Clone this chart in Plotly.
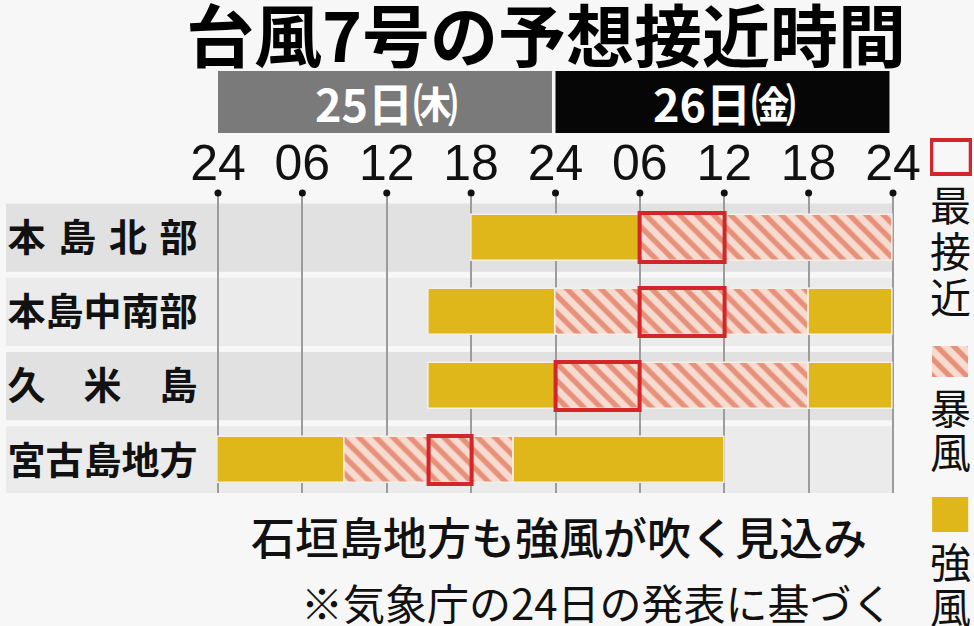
import plotly.graph_objects as go

# ---------------- data ----------------
rows = ["本\u2004島\u2004北\u2004部", "本島中南部", "久\u3000米\u3000島", "宮古島地方"]
hour_ticks = [0, 6, 12, 18, 24, 30, 36, 42, 48]
hour_labels = ["24", "06", "12", "18", "24", "06", "12", "18", "24"]
days = ["25日㈭", "26日㈮"]
day_colors = ["#7a7a7a", "#060606"]

# 強風 (strong wind) segments: row index, start hour, end hour (hours since 25日 0時)
strong_row = [0, 1, 1, 2, 2, 3, 3]
strong_start = [18, 15, 42, 15, 42, 0, 21]
strong_end = [30, 24, 48, 24, 48, 9, 36]

# 暴風 (storm) segments
storm_row = [0, 1, 2, 3]
storm_start = [30, 24, 24, 9]
storm_end = [48, 42, 42, 21]

# 最接近 (closest approach)
closest_row = [0, 1, 2, 3]
closest_start = [30, 30, 24, 15]
closest_end = [36, 36, 30, 18]

legend_names = ["最接近", "暴風", "強風"]
title = "台風7号の予想接近時間"
note1 = "石垣島地方も強風が吹く見込み"
note2 = "※気象庁の24日の発表に基づく"

# ---------------- style ----------------
W, H = 974, 626
PX0, PX1, PY0, PY1 = 218, 893, 193, 493
XR = [-0.1, 48.1]
pph = (PX1 - PX0) / 48.0
DX0 = PX0 + (XR[0] - 0) * pph
DX1 = PX1 + (XR[1] - 48) * pph
YELLOW = "#E0B71A"
RED = "#D3262A"
HATCH_FG = "#E8917A"
HATCH_BG = "#F6DBD1"
BG = "#F7F7F7"
JP = "Noto Sans CJK JP"
NUM = "Liberation Sans Narrow, Liberation Sans, sans-serif"

fig = go.Figure()

bar_w = 0.62
fig.add_trace(go.Bar(
    orientation="h", y=strong_row, base=strong_start,
    x=[e - s for s, e in zip(strong_start, strong_end)],
    width=bar_w, marker=dict(color=YELLOW, line=dict(color="#F4F0E8", width=1.5)),
    showlegend=False, hoverinfo="skip"))
fig.add_trace(go.Bar(
    orientation="h", y=storm_row, base=storm_start,
    x=[e - s for s, e in zip(storm_start, storm_end)],
    width=bar_w,
    marker=dict(color=HATCH_BG, line=dict(color="#F4F0E8", width=1.5),
                pattern=dict(shape="\\", fgcolor=HATCH_FG, bgcolor=HATCH_BG,
                             size=12, solidity=0.45, fillmode="replace")),
    showlegend=False, hoverinfo="skip"))
fig.add_trace(go.Bar(
    orientation="h", y=closest_row, base=closest_start,
    x=[e - s for s, e in zip(closest_start, closest_end)],
    width=bar_w + 0.03,
    marker=dict(color="rgba(0,0,0,0)", line=dict(color=RED, width=4)),
    showlegend=False, hoverinfo="skip"))

# dots at top of gridlines
fig.add_trace(go.Scatter(
    x=hour_ticks, y=[-0.6] * len(hour_ticks), mode="markers",
    marker=dict(size=7, color="#111"), cliponaxis=False,
    showlegend=False, hoverinfo="skip"))

# legend swatch (hatched) on a helper axis
fig.add_trace(go.Bar(
    orientation="h", y=[361], base=[0.05], x=[0.86], width=31,
    xaxis="x2", yaxis="y2",
    marker=dict(color=HATCH_BG, line=dict(width=0),
                pattern=dict(shape="\\", fgcolor=HATCH_FG, bgcolor=HATCH_BG,
                             size=12, solidity=0.45, fillmode="replace")),
    showlegend=False, hoverinfo="skip"))

shapes = []
# row bands
for i in range(len(rows)):
    shapes.append(dict(type="rect", xref="paper", yref="y", layer="below",
                       x0=6 / W, x1=894 / W, y0=i - 0.46, y1=i + 0.46,
                       fillcolor="#E1E1E1" if i % 2 == 0 else "#EBEBEB",
                       line=dict(width=0)))
# day header bars
for i, d in enumerate(days):
    shapes.append(dict(type="rect", xref="x", yref="paper",
                       x0=24 * i, x1=24 * (i + 1) - 0.25,
                       y0=1 - 133 / H, y1=1 - 71 / H,
                       fillcolor=day_colors[i], line=dict(width=0)))
# legend swatches
shapes.append(dict(type="rect", xref="x2", yref="y2", x0=0.03, x1=0.97, y0=140, y1=174,
                   fillcolor="rgba(0,0,0,0)", line=dict(color=RED, width=4)))
shapes.append(dict(type="rect", xref="x2", yref="y2", x0=0.05, x1=0.91, y0=497, y1=532,
                   fillcolor=YELLOW, line=dict(width=0)))

ann = []
ann.append(dict(text=f"<b>{title}</b>", x=546 / W, y=1 - 32 / H, xref="paper", yref="paper",
                showarrow=False, font=dict(family=JP, size=68, color="#000", weight=900),
                xanchor="center", yanchor="middle"))
for i, d in enumerate(days):
    ann.append(dict(text=f"<b>{d}</b>", x=24 * i + 12, y=1 - 103 / H, xref="x", yref="paper",
                    showarrow=False, font=dict(family=JP, size=45, color="#fff"),
                    xanchor="center", yanchor="middle"))
# vertical legend text
legend_centers = [[203, 249, 295], [406, 450], [560, 605]]
for name, ys in zip(legend_names, legend_centers):
    for ch, yc in zip(name, ys):
        ann.append(dict(text=ch, x=950 / W, y=1 - yc / H, xref="paper", yref="paper",
                        showarrow=False, font=dict(family=JP, size=41, color="#111"),
                        xanchor="center", yanchor="middle"))
ann.append(dict(text=note1, x=559 / W, y=1 - 536 / H, xref="paper", yref="paper",
                showarrow=False, font=dict(family=JP, size=44, color="#111", weight=500),
                xanchor="center", yanchor="middle"))
ann.append(dict(text=note2, x=597 / W, y=1 - 601 / H, xref="paper", yref="paper",
                showarrow=False, font=dict(family=JP, size=42, color="#111"),
                xanchor="center", yanchor="middle"))

fig.update_layout(
    width=W, height=H, margin=dict(l=0, r=0, t=0, b=0, autoexpand=False),
    paper_bgcolor=BG, plot_bgcolor="rgba(0,0,0,0)",
    barmode="overlay", bargap=0,
    shapes=shapes, annotations=ann,
    xaxis=dict(domain=[DX0 / W, DX1 / W], range=XR, side="top",
               tickvals=hour_ticks, ticktext=hour_labels, ticks="",
               tickfont=dict(family=NUM, size=50, color="#111"),
               ticklabelstandoff=2, automargin=False,
               showgrid=True, gridcolor="#9c9c9c", gridwidth=2,
               zeroline=False, showline=False, fixedrange=True),
    yaxis=dict(domain=[1 - PY1 / H, 1 - PY0 / H], range=[3.44, -0.6],
               tickvals=list(range(len(rows))), ticktext=rows, ticks="",
               tickfont=dict(family=JP, size=38, color="#111", weight=700),
               ticklabelstandoff=18, automargin=False,
               showgrid=False, zeroline=False, showline=False, fixedrange=True),
    xaxis2=dict(domain=[930 / W, 972 / W], range=[0, 1], visible=False, anchor="y2"),
    yaxis2=dict(domain=[0, 1], range=[H, 0], visible=False, anchor="x2"),
    font=dict(family=JP),
)

fig.write_html("out.html")
